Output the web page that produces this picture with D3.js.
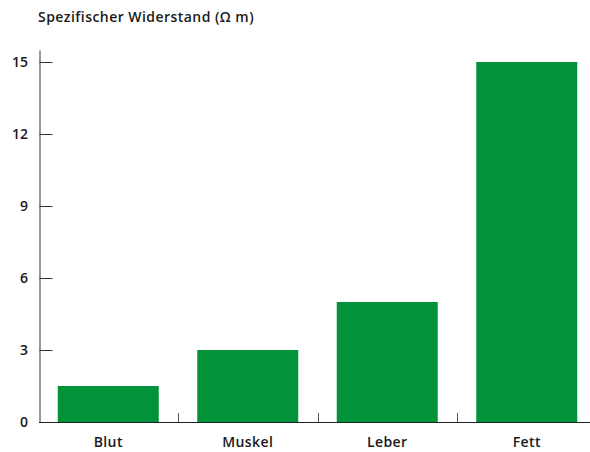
<!DOCTYPE html>
<html><head><meta charset="utf-8">
<script src="https://cdn.jsdelivr.net/npm/d3@7"></script>
<style>body{margin:0;background:#fff;} text{font-family:"Open Sans","Noto Sans",sans-serif;}</style>
</head><body><svg id="c" width="590" height="452"></svg>
<script>
const categories = ["Blut","Muskel","Leber","Fett"];
const values = [1.5, 3, 5, 15];
const yTicks = [0,3,6,9,12,15];
const title = "Spezifischer Widerstand (Ω m)";

const svg = d3.select("#c");
const x = d3.scaleBand().domain(categories).range([38.5,596.5]).paddingInner(0.276).paddingOuter(0.138);
const y = d3.scaleLinear().domain([0,15.5]).range([422,50]);

svg.selectAll("rect.bar").data(values).join("rect")
  .attr("class","bar")
  .attr("x",(d,i)=>x(categories[i]))
  .attr("width",x.bandwidth())
  .attr("y",d=>y(d))
  .attr("height",d=>y(0)-y(d))
  .attr("fill","#02923a");

// y axis
const ya = svg.append("g").attr("transform","translate(39.5,0)")
  .call(d3.axisRight(y).tickValues(yTicks).tickSize(13).tickSizeOuter(0).tickFormat(""));
ya.select(".domain").attr("stroke","#333");
ya.selectAll(".tick line").attr("stroke","#333");
svg.selectAll("text.yl").data(yTicks).join("text").attr("class","yl")
  .attr("x",28).attr("y",d=>y(d)).attr("dy","0.36em").attr("text-anchor","end")
  .attr("font-size",14).attr("font-weight",600).attr("fill","#1a1a1a").text(d=>d);

// x axis
svg.append("line").attr("x1",39).attr("x2",590).attr("y1",422.5).attr("y2",422.5).attr("stroke","#222").attr("stroke-width",1.2);
const bounds = categories.slice(1).map(c=>x(c)-x.step()*x.paddingInner()/2);
svg.selectAll("line.xt").data(bounds).join("line").attr("class","xt")
  .attr("x1",d=>Math.round(d)+0.5).attr("x2",d=>Math.round(d)+0.5).attr("y1",413).attr("y2",422).attr("stroke","#555");
svg.selectAll("text.xl").data(categories).join("text").attr("class","xl")
  .attr("x",d=>x(d)+x.bandwidth()/2).attr("y",447).attr("text-anchor","middle")
  .attr("font-size",14).attr("font-weight",600).attr("letter-spacing",0.4).attr("fill","#1a1a1a").text(d=>d);

svg.append("text").attr("x",38).attr("y",22).attr("font-size",14).attr("font-weight",600).attr("letter-spacing",0.45).attr("fill","#1a1a1a").text(title);
</script></body></html>
